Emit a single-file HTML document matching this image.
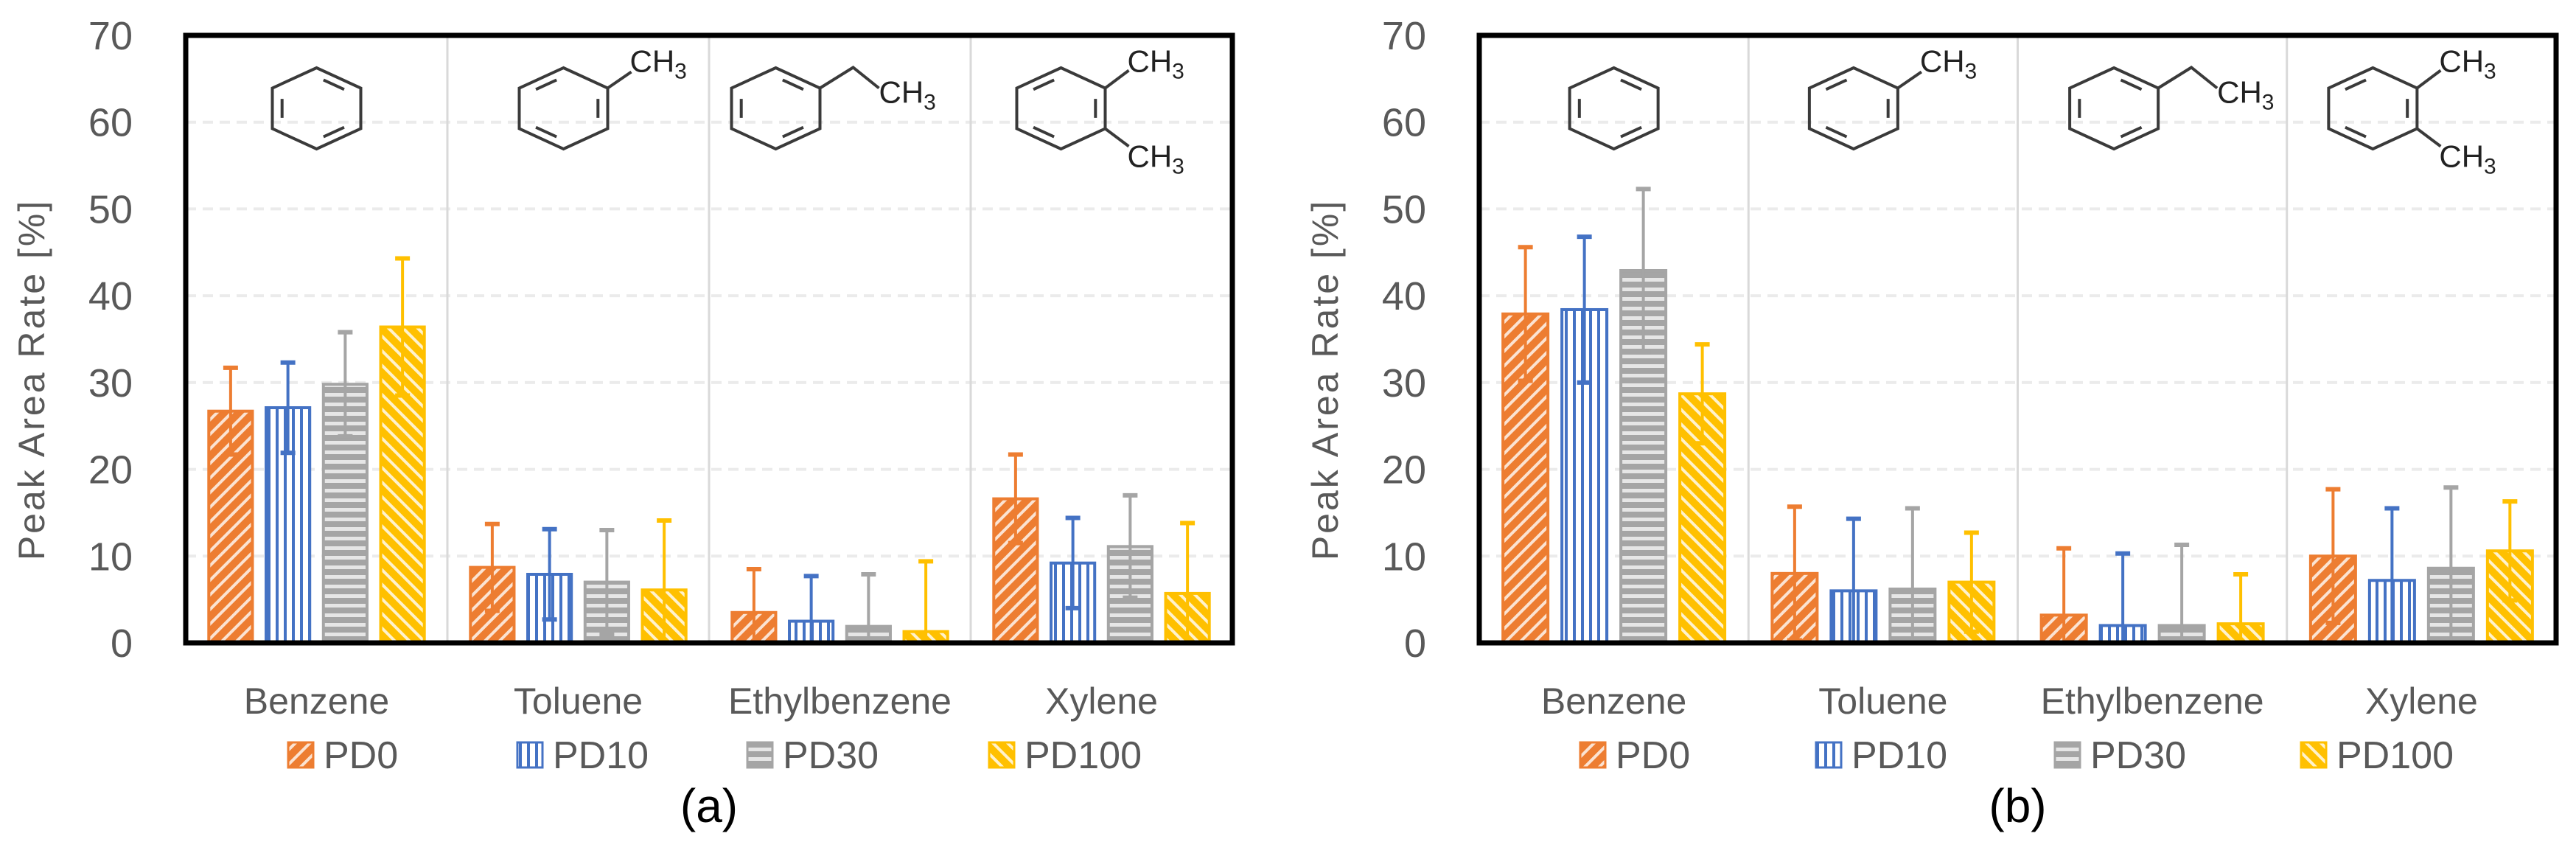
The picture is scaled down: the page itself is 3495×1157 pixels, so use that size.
<!DOCTYPE html>
<html><head><meta charset="utf-8"><style>
html,body{margin:0;padding:0;background:#fff;}
svg{display:block;font-family:"Liberation Sans",sans-serif;}
</style></head><body>
<svg id="fig" width="3495" height="1157" viewBox="0 0 3495 1157" xmlns="http://www.w3.org/2000/svg">
<defs>
<pattern id="p-pd0" patternUnits="userSpaceOnUse" width="14" height="14" patternTransform="rotate(45)"><rect width="14" height="14" fill="#ED7D31"/><rect x="0" y="0" width="4" height="14" fill="#FBE3D2"/></pattern>
<pattern id="p-pd10" patternUnits="userSpaceOnUse" width="11" height="11"><rect width="11" height="11" fill="#fff"/><rect x="0" y="0" width="4" height="11" fill="#4472C4"/></pattern>
<pattern id="p-pd30" patternUnits="userSpaceOnUse" width="13" height="13"><rect width="13" height="13" fill="#A5A5A5"/><rect x="0" y="0" width="13" height="5" fill="#E6E6E6"/></pattern>
<pattern id="p-pd100" patternUnits="userSpaceOnUse" width="14" height="14" patternTransform="rotate(-45)"><rect width="14" height="14" fill="#FFC000"/><rect x="0" y="0" width="4" height="14" fill="#FFF2CC"/></pattern>
</defs>
</svg>
<script>
const categories = ['Benzene','Toluene','Ethylbenzene','Xylene'];
const seriesNames = ['PD0','PD10','PD30','PD100'];
const yTicks = [0,10,20,30,40,50,60,70];
// chart (a)
const aPD0 = [26.7, 8.7, 3.5, 16.6];
const aPD10 = [27.1, 7.9, 2.5, 9.2];
const aPD30 = [29.8, 7.0, 1.9, 11.1];
const aPD100 = [36.4, 6.1, 1.3, 5.7];
const aErrPD0 = [5.0, 5.0, 5.0, 5.1];
const aErrPD10 = [5.2, 5.2, 5.2, 5.2];
const aErrPD30 = [6.0, 6.0, 6.0, 5.9];
const aErrPD100 = [7.9, 8.0, 8.1, 8.1];
// chart (b)
const bPD0 = [37.9, 8.0, 3.2, 10.0];
const bPD10 = [38.4, 6.0, 2.0, 7.2];
const bPD30 = [42.9, 6.2, 2.0, 8.6];
const bPD100 = [28.7, 7.0, 2.2, 10.6];
const bErrPD0 = [7.7, 7.7, 7.7, 7.7];
const bErrPD10 = [8.4, 8.3, 8.3, 8.3];
const bErrPD30 = [9.4, 9.3, 9.3, 9.3];
const bErrPD100 = [5.7, 5.7, 5.7, 5.7];

const NS = 'http://www.w3.org/2000/svg';
const svg = document.getElementById('fig');
const colors = ['#ED7D31','#4472C4','#A5A5A5','#FFC000'];
const pats = ['url(#p-pd0)','url(#p-pd10)','url(#p-pd30)','url(#p-pd100)'];
function mk(tag, attrs, parent){const e=document.createElementNS(NS,tag);for(const k in attrs)e.setAttribute(k,attrs[k]);(parent||svg).appendChild(e);return e;}

function drawMolecule(g, kind, cx, cy){
  const sx=60, sy=55;
  const V=[[0,-sy],[sx,-sy/2],[sx,sy/2],[0,sy],[-sx,sy/2],[-sx,-sy/2]].map(p=>[cx+p[0],cy+p[1]]);
  mk('polygon',{points:V.map(p=>p.join(',')).join(' '),fill:'none',stroke:'#3a3a3a','stroke-width':4},g);
  const inner=(a,b)=>{const ia=V[a],ib=V[b];const f=0.78;
    const ax=cx+(ia[0]-cx)*f, ay=cy+(ia[1]-cy)*f, bx=cx+(ib[0]-cx)*f, by=cy+(ib[1]-cy)*f;
    const sh=0.2; mk('line',{x1:ax+(bx-ax)*sh,y1:ay+(by-ay)*sh,x2:bx-(bx-ax)*sh,y2:by-(by-ay)*sh,stroke:'#3a3a3a','stroke-width':4},g);};
  const t=(x,y)=>{const tx=mk('text',{x:x,y:y,'font-size':42,fill:'#222'},g);tx.innerHTML='CH<tspan font-size="30" dy="9">3</tspan>';return tx;};
  if(kind===0){inner(0,1);inner(2,3);inner(4,5);}
  else if(kind===1){inner(5,0);inner(1,2);inner(3,4);
    mk('polyline',{points:`${V[1][0]},${V[1][1]} ${V[1][0]+32},${V[1][1]-22}`,fill:'none',stroke:'#3a3a3a','stroke-width':4},g);
    t(V[1][0]+30,V[1][1]-22);}
  else if(kind===2){inner(0,1);inner(2,3);inner(4,5);
    mk('polyline',{points:`${V[1][0]},${V[1][1]} ${V[1][0]+45},${V[1][1]-28} ${V[1][0]+80},${V[1][1]}`,fill:'none',stroke:'#3a3a3a','stroke-width':4},g);
    t(V[1][0]+80,V[1][1]+20);}
  else {inner(5,0);inner(1,2);inner(3,4);
    mk('polyline',{points:`${V[1][0]},${V[1][1]} ${V[1][0]+32},${V[1][1]-24}`,fill:'none',stroke:'#3a3a3a','stroke-width':4},g);
    mk('polyline',{points:`${V[2][0]},${V[2][1]} ${V[2][0]+32},${V[2][1]+24}`,fill:'none',stroke:'#3a3a3a','stroke-width':4},g);
    t(V[1][0]+30,V[1][1]-22); t(V[2][0]+30,V[2][1]+52);}
}

function drawChart(cfg, values, errs){
  const {x0,x1,top,bottom,name,label,molOff,legendX} = cfg;
  const g = mk('g',{});
  
  
  const y = v => bottom - v*(bottom-top)/70;
  const catW = (x1-x0)/categories.length;
  const barW = catW*0.178, gap = catW*0.041;
  const off = (catW - (4*barW+3*gap))/2;
  yTicks.forEach(t=>{
    if(t>0 && t<70){const gl=mk('line',{x1:x0,x2:x1,y1:y(t),y2:y(t),stroke:'#ebebeb','stroke-width':4,'stroke-dasharray':'14 9'},g);
      
      }
    const tl=mk('text',{x:x0-72,y:y(t)+19,'text-anchor':'end','font-size':54,fill:'#595959'},g);
    
    
    tl.textContent=t;
  });
  for(let i=1;i<categories.length;i++){
    const d=mk('line',{x1:x0+catW*i,x2:x0+catW*i,y1:top,y2:bottom,stroke:'#d9d9d9','stroke-width':3},g);
    
    
  }
  categories.forEach((c,i)=>{
    const mg=mk('g',{},g);
    
    
    drawMolecule(mg,i,x0+catW*(i+0.5)+molOff[i],147);
  });
  values.forEach((arr,s)=>{
    arr.forEach((v,i)=>{
      const bx = x0+catW*i+off+s*(barW+gap);
      const r=mk('rect',{x:bx+2,y:y(v),width:barW-4,height:bottom-y(v),fill:pats[s],stroke:colors[s],'stroke-width':4},g);
      
      
      const e=errs[s][i], cx=bx+barW/2;
      const lo=Math.max(0,v-e), hi=v+e;
      const eg=mk('g',{stroke:colors[s],'stroke-width':4},g);
      
      
      mk('line',{x1:cx,x2:cx,y1:y(hi),y2:y(lo)},eg);
      mk('line',{x1:cx-10,x2:cx+10,y1:y(hi),y2:y(hi),'stroke-width':6},eg);
      if(v-e>0) mk('line',{x1:cx-10,x2:cx+10,y1:y(lo),y2:y(lo),'stroke-width':6},eg);
    });
  });
  const b=mk('rect',{x:x0,y:top,width:x1-x0,height:bottom-top,fill:'none',stroke:'#000','stroke-width':7},g);
  
  
  categories.forEach((c,i)=>{
    const t=mk('text',{x:x0+catW*(i+0.5),y:968,'text-anchor':'middle','font-size':50,fill:'#595959'},g);
    
    
    t.textContent=c;
  });
  const yt=mk('text',{x:0,y:0,'text-anchor':'middle','font-size':50,'letter-spacing':3,fill:'#595959',transform:`translate(${x0-192},515) rotate(-90)`},g);
  
  
  yt.textContent='Peak Area Rate [%]';
  seriesNames.forEach((s,i)=>{
    const lg=mk('g',{},g);
    
    
    mk('rect',{x:legendX[i]+2,y:1007,width:34,height:34,fill:pats[i],stroke:colors[i],'stroke-width':3},lg);
    const t=mk('text',{x:legendX[i]+50,y:1042,'font-size':52,fill:'#595959'},lg);
    t.textContent=s;
  });
  const pl=mk('text',{x:(x0+x1)/2,y:1115,'text-anchor':'middle','font-size':64,fill:'#000'},g);
  
  
  pl.textContent=label;
}

drawChart({x0:252,x1:1672,top:48,bottom:872,name:'chart-a',label:'(a)',molOff:[0,-20,-87,-55],legendX:[389,700,1012,1340]},
  [aPD0,aPD10,aPD30,aPD100],[aErrPD0,aErrPD10,aErrPD30,aErrPD100]);
drawChart({x0:2007,x1:3468,top:48,bottom:872,name:'chart-b',label:'(b)',molOff:[0,-40,-52,-66],legendX:[2142,2462,2786,3120]},
  [bPD0,bPD10,bPD30,bPD100],[bErrPD0,bErrPD10,bErrPD30,bErrPD100]);
</script>
</body></html>
